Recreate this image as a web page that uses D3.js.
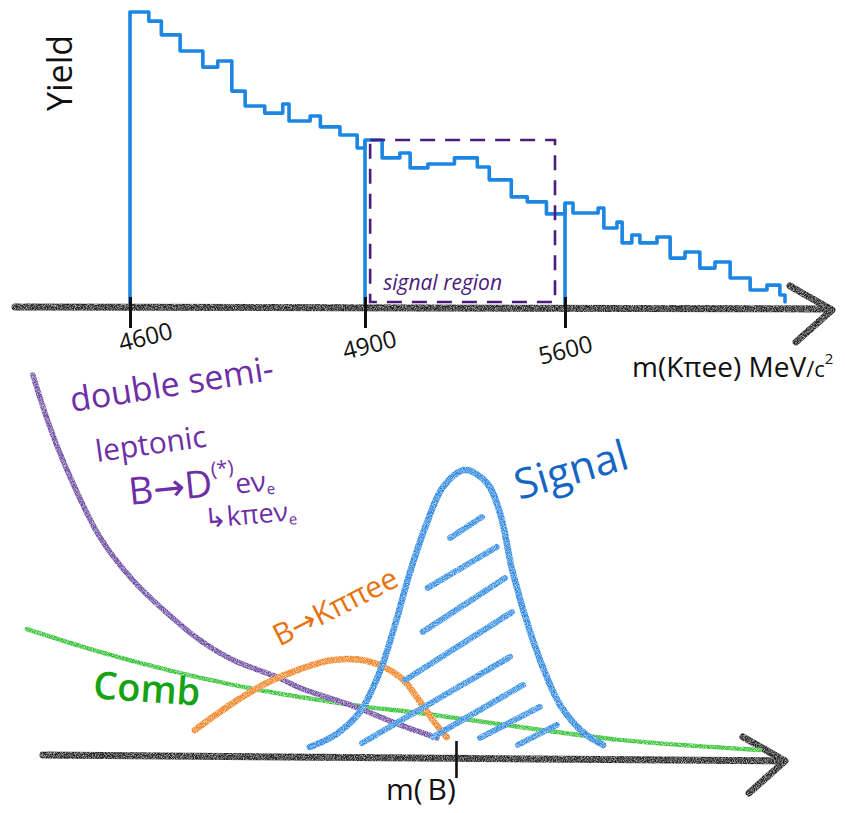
<!DOCTYPE html>
<html>
<head>
<meta charset="utf-8">
<script src="https://cdn.jsdelivr.net/npm/d3@7"></script>
<style>
  body { margin: 0; background: #fff; }
  svg { display: block; }
  text { font-family: "Open Sans", "DejaVu Sans", sans-serif; }
</style>
</head>
<body>
<svg id="chart" width="845" height="813"></svg>
<script>
// ---- top panel: stepped m(Kpiee) histogram ----
const binEdges = [4600, 4624, 4640, 4664, 4693, 4712, 4730, 4747, 4772, 4795, 4803, 4830, 4843, 4868, 4890,
                  4900, 4960, 5022, 5058, 5120, 5213, 5293, 5335, 5412, 5468, 5535,
                  5600, 5628, 5716, 5736, 5782, 5800, 5834, 5862, 5922, 5968, 6020, 6072, 6125, 6178, 6248, 6307, 6352, 6370];
const binYields = [100, 96.9, 92.2, 86.7, 81.2, 83.3, 73.0, 67.9, 65.5, 68.6, 62.8, 64.5, 60.8, 58.0, 53.6,
                   56.3, 50.2, 51.9, 46.8, 48.1, 50.2, 47.1, 42.7, 36.9, 35.2, 31.1,
                   34.8, 31.4, 33.1, 26.3, 28.3, 21.2, 23.9, 21.2, 23.2, 16.0, 18.1, 12.6, 14.7, 9.2, 5.1, 6.8, 3.4];
const regionEdges = [4600, 4900, 5600];
const tickLabels = ["4600", "4900", "5600"];
const signalRegion = [4918, 5565];
const signalBoxHeight = 56.3;

// ---- bottom panel: sketched fit components, [mass, height] ----
const mB = 5279;
const signalPts = [[4962, 1.8], [5016, 6.0], [5070, 14.2], [5113, 28.4], [5146, 45.0], [5178, 63.5], [5215, 81.2],
                   [5250, 94.0], [5297, 100], [5345, 95.4], [5373, 84.8], [5401, 63.5], [5444, 39.7], [5477, 25.5],
                   [5503, 16.7], [5552, 7.1], [5596, 2.5]];
const hatchSegs = [[5265, 75.9, 5334, 83.3], [5217, 58.2, 5366, 72.7], [5206, 42.6, 5384, 61.7], [5168, 25.5, 5399, 49.6],
                   [5075, 3.2, 5395, 33.7], [5228, 5.3, 5423, 23.8], [5330, 5.0, 5459, 16.0], [5412, 2.5, 5496, 9.6]];
const semilepPts = [[4363, 133.7], [4400, 115.2], [4437, 100.0], [4508, 76.2], [4579, 61.0], [4653, 49.3], [4724, 39.7],
                    [4796, 32.6], [4891, 26.6], [4941, 22.7], [5049, 16.7], [5157, 9.6], [5237, 5.0]];
const kpipiPts = [[4713, 7.8], [4796, 17.4], [4869, 24.5], [4941, 29.4], [5012, 32.6], [5085, 32.3], [5157, 26.6],
                  [5193, 19.5], [5228, 11.3], [5258, 5.3]];
const combPts = [[4350, 43.6], [4508, 35.5], [4653, 29.1], [4796, 23.8], [4941, 19.5], [5085, 16.0], [5200, 13.8],
                 [5416, 8.9], [5632, 4.3], [5935, 0.7]];

const svg = d3.select("#chart");
const defs = svg.append("defs");

// crayon grain
const grain = defs.append("filter").attr("id", "grain")
  .attr("filterUnits", "userSpaceOnUse").attr("x", 0).attr("y", 0).attr("width", 845).attr("height", 813);
grain.append("feTurbulence").attr("type", "fractalNoise").attr("baseFrequency", 1.1).attr("numOctaves", 2).attr("seed", 3).attr("result", "n");
grain.append("feColorMatrix").attr("in", "n").attr("type", "matrix")
  .attr("values", "0 0 0 0 0  0 0 0 0 0  0 0 0 0 0  0 0 0 -1.6 1.55").attr("result", "a");
grain.append("feComposite").attr("in", "SourceGraphic").attr("in2", "a").attr("operator", "in");

function arrow(g, x, y, color) {
  g.append("path")
    .attr("d", `M${x - 42},${y - 24} L${x},${y} L${x - 36},${y + 32}`)
    .attr("fill", "none").attr("stroke", color).attr("stroke-width", 7)
    .attr("stroke-linecap", "round").attr("stroke-linejoin", "round");
}

// ================= TOP =================
const xTop = d3.scaleLinear().domain(regionEdges).range([130, 365, 565]);
const yTop = d3.scaleLinear().domain([0, 100]).range([305, 12]);
const topG = svg.append("g");

// axis line
const axTopG = topG.append("g").attr("filter", "url(#grain)");
axTopG.append("path").attr("d", "M15,307 L830,309")
  .attr("stroke", "#1b1b1b").attr("stroke-width", 7).attr("stroke-linecap", "round");
arrow(axTopG, 832, 310, "#1b1b1b");

// histogram
const steps = [[binEdges[0], 0]];
binYields.forEach((v, i) => { steps.push([binEdges[i], v], [binEdges[i + 1], v]); });
steps.push([binEdges[binEdges.length - 1], 1]);

const stepLine = d3.line().x(d => xTop(d[0])).y(d => yTop(d[1]));
topG.append("path").datum(steps)
  .attr("d", stepLine)
  .attr("fill", "none").attr("stroke", "#1d86e3").attr("stroke-width", 3.6)
  .attr("stroke-linejoin", "round").attr("stroke-linecap", "round");

regionEdges.slice(1).forEach(e => {
  const i = binEdges.indexOf(e);
  const h = Math.max(binYields[i - 1], binYields[i]);
  topG.append("path").datum([[e, 0], [e, h]])
    .attr("d", stepLine)
    .attr("stroke", "#1d86e3").attr("stroke-width", 3.6);
});

// signal region box
topG.append("rect")
  .attr("x", xTop(signalRegion[0])).attr("y", yTop(signalBoxHeight))
  .attr("width", xTop(signalRegion[1]) - xTop(signalRegion[0]))
  .attr("height", yTop(1) - yTop(signalBoxHeight))
  .attr("fill", "none").attr("stroke", "#4a1c7c").attr("stroke-width", 2.6)
  .attr("stroke-dasharray", "15,10");
topG.append("text")
  .attr("x", xTop(signalRegion[0]) + 13).attr("y", 290)
  .attr("fill", "#4a1c7c").attr("font-size", 21).attr("font-style", "italic")
  .text("signal region");

// ticks and labels
const labelOff = [[15, 30], [4, 38], [0, 43]];
const axTop = topG.append("g").attr("transform", "translate(0,307)")
  .call(d3.axisBottom(xTop).tickValues(regionEdges).tickFormat((d, i) => tickLabels[i]).tickSize(20));
axTop.select(".domain").remove();
axTop.selectAll(".tick line").attr("y1", -10).attr("y2", 21).attr("stroke", "#111").attr("stroke-width", 3);
axTop.selectAll(".tick text")
  .attr("y", null).attr("dy", "0.35em")
  .attr("transform", (d, i) => `translate(${labelOff[i][0]},${labelOff[i][1]}) rotate(-14)`)
  .attr("font-size", 24).attr("fill", "#111")
  .attr("font-family", "\"Open Sans\", sans-serif");

topG.append("text")
  .attr("transform", "translate(72,73) rotate(-90)")
  .attr("text-anchor", "middle")
  .attr("font-size", 34).attr("fill", "#111")
  .text("Yield");

const axLab = topG.append("text").attr("x", 632).attr("y", 377).attr("font-size", 28).attr("fill", "#111");
axLab.append("tspan").text("m(Kπee) MeV");
axLab.append("tspan").attr("font-size", 22).text("/c");
axLab.append("tspan").attr("font-size", 15).attr("dy", -13).text("2");

// ================= BOTTOM =================
const xBot = d3.scaleLinear().domain([4385, 5985]).range([43, 783]);
const yBot = d3.scaleLinear().domain([0, 100]).range([752, 470]);
const bot = svg.append("g");
const crayon = bot.append("g").attr("filter", "url(#grain)");

crayon.append("path").attr("d", `M${xBot.range()[0]},755 L${xBot.range()[1]},761`)
  .attr("stroke", "#1b1b1b").attr("stroke-width", 7).attr("stroke-linecap", "round");
arrow(crayon, 785, 761, "#1b1b1b");

const smooth = d3.line().x(d => xBot(d[0])).y(d => yBot(d[1])).curve(d3.curveCatmullRom.alpha(0.5));

crayon.append("path").datum(combPts).attr("d", smooth)
  .attr("fill", "none").attr("stroke", "#2dbf2d").attr("stroke-width", 4.5).attr("stroke-linecap", "round");
crayon.append("path").datum(semilepPts).attr("d", smooth)
  .attr("fill", "none").attr("stroke", "#6a479f").attr("stroke-width", 5.5).attr("stroke-linecap", "round");
crayon.append("path").datum(kpipiPts).attr("d", smooth)
  .attr("fill", "none").attr("stroke", "#f0801e").attr("stroke-width", 6.5).attr("stroke-linecap", "round");

crayon.selectAll("line.hatch").data(hatchSegs).join("line").attr("class", "hatch")
  .attr("x1", d => xBot(d[0])).attr("y1", d => yBot(d[1]))
  .attr("x2", d => xBot(d[2])).attr("y2", d => yBot(d[3]))
  .attr("stroke", "#2f8be3").attr("stroke-width", 6).attr("stroke-linecap", "round");
crayon.append("path").datum(signalPts).attr("d", smooth)
  .attr("fill", "none").attr("stroke", "#2784df").attr("stroke-width", 6.5).attr("stroke-linecap", "round");

// m(B) tick
bot.append("line")
  .attr("x1", xBot(mB)).attr("x2", xBot(mB)).attr("y1", 741).attr("y2", 778)
  .attr("stroke", "#111").attr("stroke-width", 2.6);
bot.append("text").attr("x", 386).attr("y", 800).attr("font-size", 30).attr("fill", "#111")
  .text("m(\u2009B)");

// labels
bot.append("text").attr("transform", "translate(575,484) rotate(-16)")
  .attr("text-anchor", "middle").attr("font-size", 42).attr("fill", "#1565c4").text("Signal");
bot.append("text").attr("transform", "translate(340,616) rotate(-27)")
  .attr("text-anchor", "middle").attr("font-size", 30).attr("fill", "#e8720e").text("B→Kππee");
bot.append("text").attr("transform", "translate(146,702) rotate(4)")
  .attr("text-anchor", "middle").attr("font-size", 38).attr("font-weight", 600).attr("fill", "#15a315").text("Comb");

const purp = "#6e2ea6";
const pl = bot.append("g").attr("fill", purp);
pl.append("text").attr("transform", "translate(72,412) rotate(-9)").attr("font-size", 34).text("double semi-");
pl.append("text").attr("transform", "translate(97,462) rotate(-8)").attr("font-size", 30).text("leptonic");
const bd = pl.append("text").attr("transform", "translate(130,505) rotate(-6)").attr("font-size", 38);
bd.append("tspan").text("B→D");
bd.append("tspan").attr("font-size", 20).attr("dy", -20).text("(*)");
bd.append("tspan").attr("font-size", 28).attr("dy", 20).text("eν");
bd.append("tspan").attr("font-size", 15).attr("dy", 4).text("e");
const kp = pl.append("text").attr("transform", "translate(205,528) rotate(-5)").attr("font-size", 27);
kp.append("tspan").text("↳kπeν");
kp.append("tspan").attr("font-size", 15).attr("dy", 4).text("e");
</script>
</body>
</html>
